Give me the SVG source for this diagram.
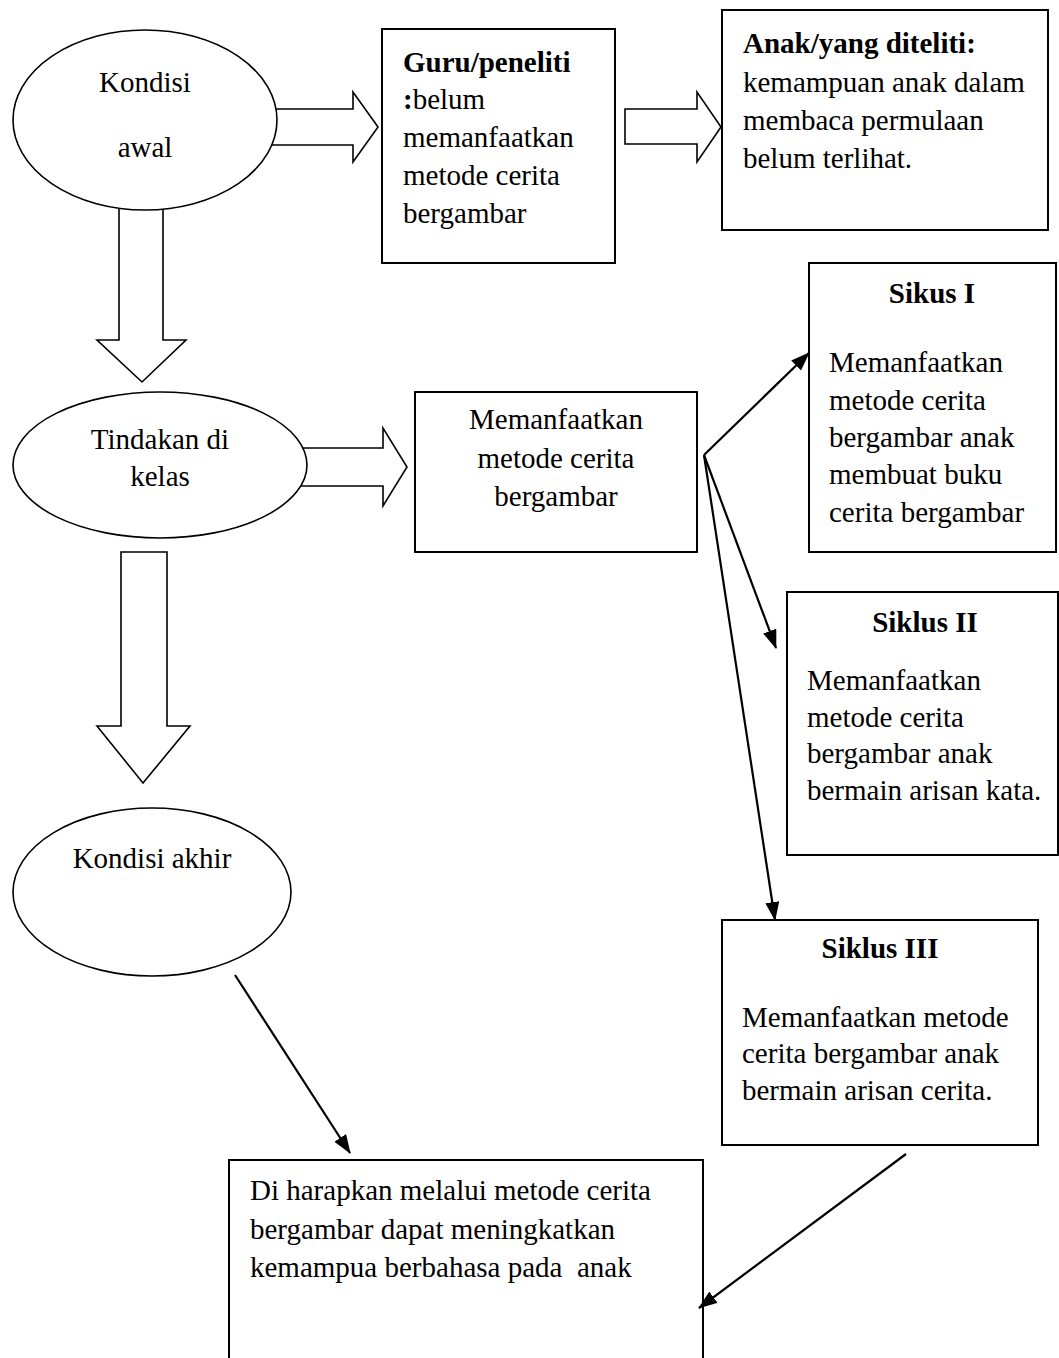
<svg xmlns="http://www.w3.org/2000/svg" width="1059" height="1358" viewBox="0 0 1059 1358">
<style>
.box{fill:#fff;stroke:#000;stroke-width:2}
.ell{fill:#fff;stroke:#000;stroke-width:1.6}
.blk{fill:#fff;stroke:#000;stroke-width:1.6;stroke-linejoin:miter}
.con{fill:none;stroke:#000;stroke-width:2.2}
text{font-family:"Liberation Serif","Times New Roman",serif;font-size:29px;fill:#000}
.b{font-weight:bold}
.c{text-anchor:middle}
</style>
<defs>
<marker id="ah" markerUnits="userSpaceOnUse" markerWidth="20" markerHeight="14" refX="18" refY="7" orient="auto">
<path d="M0,0 L19,7 L0,14 z" fill="#000"/>
</marker>
</defs>
<rect width="1059" height="1358" fill="#fff"/>

<g id="block-arrows">
<polygon class="blk" points="265,109 353,109 353,92 378,127 353,162 353,145 265,145"/>
<polygon class="blk" points="625,109 697,109 697,92 721,127 697,162 697,144 625,144"/>
<polygon class="blk" points="119,200 163,200 163,340 186,340 142,382 97,340 119,340"/>
<polygon class="blk" points="295,448 383,448 383,428 407,467 383,506 383,486 295,486"/>
<polygon class="blk" points="121,552 167,552 167,726 190,726 143,783 97,726 121,726"/>
</g>

<g id="kondisi-awal">
<ellipse class="ell" cx="145" cy="120" rx="132" ry="90"/>
<text class="c" x="145" y="92">Kondisi</text>
<text class="c" x="145" y="157">awal</text>
</g>

<g id="guru">
<rect class="box" x="382" y="29" width="233" height="234"/>
<text x="403" y="72" class="b">Guru/peneliti</text>
<text x="403" y="109"><tspan class="b">:</tspan>belum</text>
<text x="403" y="147">memanfaatkan</text>
<text x="403" y="185">metode cerita</text>
<text x="403" y="223">bergambar</text>
</g>

<g id="anak">
<rect class="box" x="722" y="10" width="326" height="220"/>
<text x="743" y="53" class="b">Anak/yang diteliti:</text>
<text x="743" y="92">kemampuan anak dalam</text>
<text x="743" y="130">membaca permulaan</text>
<text x="743" y="168">belum terlihat.</text>
</g>

<g id="tindakan">
<ellipse class="ell" cx="160" cy="465" rx="147" ry="73"/>
<text class="c" x="160" y="449">Tindakan di</text>
<text class="c" x="160" y="486">kelas</text>
</g>

<g id="memanfaatkan">
<rect class="box" x="415" y="392" width="282" height="160"/>
<text class="c" x="556" y="429">Memanfaatkan</text>
<text class="c" x="556" y="468">metode cerita</text>
<text class="c" x="556" y="506">bergambar</text>
</g>

<g id="sikus1">
<rect class="box" x="809" y="263" width="247" height="289"/>
<text class="c b" x="932" y="303">Sikus I</text>
<text x="829" y="372">Memanfaatkan</text>
<text x="829" y="410">metode cerita</text>
<text x="829" y="447">bergambar anak</text>
<text x="829" y="484">membuat buku</text>
<text x="829" y="522">cerita bergambar</text>
</g>

<g id="siklus2">
<rect class="box" x="787" y="592" width="271" height="263"/>
<text class="c b" x="925" y="632">Siklus II</text>
<text x="807" y="690">Memanfaatkan</text>
<text x="807" y="727">metode cerita</text>
<text x="807" y="763">bergambar anak</text>
<text x="807" y="800">bermain arisan kata.</text>
</g>

<g id="siklus3">
<rect class="box" x="722" y="920" width="316" height="225"/>
<text class="c b" x="880" y="958">Siklus III</text>
<text x="742" y="1027">Memanfaatkan metode</text>
<text x="742" y="1063">cerita bergambar anak</text>
<text x="742" y="1100">bermain arisan cerita.</text>
</g>

<g id="kondisi-akhir">
<ellipse class="ell" cx="152" cy="892" rx="139" ry="84"/>
<text class="c" x="152" y="868">Kondisi akhir</text>
</g>

<g id="harapan">
<rect class="box" x="229" y="1160" width="474" height="260"/>
<text x="250" y="1200">Di harapkan melalui metode cerita</text>
<text x="250" y="1239">bergambar dapat meningkatkan</text>
<text x="250" y="1277" xml:space="preserve">kemampua berbahasa pada  anak</text>
</g>

<g id="connectors">
<line class="con" x1="704" y1="455" x2="809" y2="353" marker-end="url(#ah)"/>
<line class="con" x1="704" y1="455" x2="776" y2="648" marker-end="url(#ah)"/>
<line class="con" x1="704" y1="455" x2="775" y2="920" marker-end="url(#ah)"/>
<line class="con" x1="235" y1="975" x2="350" y2="1153" marker-end="url(#ah)"/>
<line class="con" x1="906" y1="1154" x2="699" y2="1308" marker-end="url(#ah)"/>
</g>
</svg>
